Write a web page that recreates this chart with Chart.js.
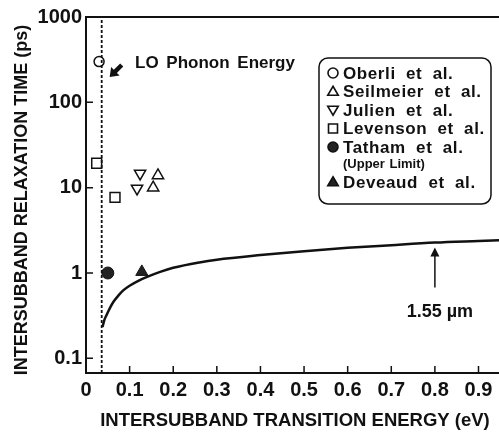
<!DOCTYPE html>
<html lang="en">
<head>
<meta charset="UTF-8">
<title>Intersubband relaxation time</title>
<script src="https://cdn.jsdelivr.net/npm/chart.js"></script>
<style>
    html, body { margin: 0; padding: 0; background: #fff; }
    #grafico { display: block; }
</style>
</head>
<body>
<canvas id="grafico" width="499" height="436"></canvas>
<script>
    // curva teorica (eV, ps)
    const energiaCurva = [0.038, 0.042, 0.047, 0.055, 0.063, 0.075, 0.086, 0.10, 0.12, 0.14, 0.17, 0.20, 0.26, 0.30, 0.40, 0.50, 0.60, 0.70, 0.80, 0.90, 0.95];
    const tempoCurva   = [0.234, 0.28, 0.32, 0.39, 0.46, 0.55, 0.63, 0.71, 0.81, 0.90, 1.03, 1.15, 1.33, 1.43, 1.62, 1.80, 1.97, 2.12, 2.27, 2.37, 2.42];

    // medidas
    const oberliX = [0.030];          const oberliY = [300];
    const seilmeierX = [0.154, 0.165]; const seilmeierY = [10, 13.9];
    const julienX = [0.117, 0.124];    const julienY = [9.8, 14.7];
    const levensonX = [0.0245, 0.0665]; const levensonY = [19.3, 7.7];
    const tathamX = [0.050];           const tathamY = [1.0];
    const deveaudX = [0.128];          const deveaudY = [1.03];

    const energiaLO = 0.036;
    const comprimentoOnda = 0.80; // 1.55 um

    const xTicks = [0, 0.1, 0.2, 0.3, 0.4, 0.5, 0.6, 0.7, 0.8, 0.9];
    const xRotulos = ['0', '0.1', '0.2', '0.3', '0.4', '0.5', '0.6', '0.7', '0.8', '0.9'];
    const yTicks = [0.1, 1, 10, 100, 1000];
    const yRotulos = ['0.1', '1', '10', '100', '1000'];
    const xMin = 0, xMax = 0.947;
    const yMin = 0.0673, yMax = 1000;

    const fonte = '"Liberation Sans", Arial, Helvetica, sans-serif';
    const preto = '#111';

    function pontos(xs, ys){
        var lista = [];
        for(var i = 0; i < xs.length; i++){
            lista.push({x: xs[i], y: ys[i]});
        }
        return lista;
    }

    const legendaItens = [
        {texto: 'Oberli et al.', estilo: 'circulo', cheio: false},
        {texto: 'Seilmeier et al.', estilo: 'cima', cheio: false},
        {texto: 'Julien et al.', estilo: 'baixo', cheio: false},
        {texto: 'Levenson et al.', estilo: 'quadrado', cheio: false},
        {texto: 'Tatham et al.', estilo: 'circulo', cheio: true, sub: '(Upper Limit)'},
        {texto: 'Deveaud et al.', estilo: 'cima', cheio: true}
    ];

    function simbolo(ctx, estilo, cheio, x, y, r){
        ctx.beginPath();
        if(estilo == 'circulo'){
            ctx.arc(x, y, r, 0, Math.PI * 2);
        }
        else if(estilo == 'quadrado'){
            ctx.rect(x - r, y - r, 2 * r, 2 * r);
        }
        else{
            var s = estilo == 'cima' ? 1 : -1;
            ctx.moveTo(x, y - s * r * 1.05);
            ctx.lineTo(x + r * 1.05, y + s * r * 0.75);
            ctx.lineTo(x - r * 1.05, y + s * r * 0.75);
            ctx.closePath();
        }
        if(cheio){
            ctx.fillStyle = '#222';
            ctx.fill();
        }
        ctx.lineWidth = 1.6;
        ctx.strokeStyle = preto;
        ctx.stroke();
    }

    const desenho = {
        id: 'desenho',
        afterDraw(chart){
            const ctx = chart.ctx;
            const area = chart.chartArea;
            const sx = chart.scales.x, sy = chart.scales.y;
            ctx.save();
            ctx.strokeStyle = preto;
            ctx.fillStyle = preto;

            // borda superior
            ctx.lineWidth = 2;
            ctx.beginPath();
            ctx.moveTo(area.left, area.top);
            ctx.lineTo(area.right, area.top);
            ctx.stroke();

            // marcas internas
            ctx.lineWidth = 1.5;
            ctx.beginPath();
            for(var i = 1; i < xTicks.length; i++){
                var px = sx.getPixelForValue(xTicks[i]);
                ctx.moveTo(px, area.bottom);
                ctx.lineTo(px, area.bottom - 7);
            }
            for(var j = 0; j < yTicks.length - 1; j++){
                var py = sy.getPixelForValue(yTicks[j]);
                ctx.moveTo(area.left, py);
                ctx.lineTo(area.left + 7, py);
            }
            ctx.stroke();

            // titulos dos eixos
            ctx.textAlign = 'center';
            ctx.textBaseline = 'middle';
            ctx.font = 'bold 18.5px ' + fonte;
            ctx.fillText('INTERSUBBAND TRANSITION ENERGY (eV)', 295, 421);
            ctx.save();
            ctx.translate(22, 200);
            ctx.rotate(-Math.PI / 2);
            ctx.font = 'bold 18px ' + fonte;
            ctx.fillText('INTERSUBBAND RELAXATION TIME (ps)', 0, 0);
            ctx.restore();

            // LO phonon
            ctx.textAlign = 'left';
            ctx.font = 'bold 17px ' + fonte;
            ctx.wordSpacing = '3px';
            ctx.fillText('LO Phonon Energy', 135, 63);
            ctx.wordSpacing = '0px';
            var lx = sx.getPixelForValue(energiaLO);
            ctx.save();
            ctx.translate(lx + 8, 77);
            ctx.rotate(-Math.PI / 4);
            ctx.beginPath();
            ctx.moveTo(0, 0);
            ctx.lineTo(8, -6);
            ctx.lineTo(8, -2.2);
            ctx.lineTo(17, -2.2);
            ctx.lineTo(17, 2.2);
            ctx.lineTo(8, 2.2);
            ctx.lineTo(8, 6);
            ctx.closePath();
            ctx.fill();
            ctx.restore();

            // 1.55 um
            var ax = sx.getPixelForValue(comprimentoOnda);
            var ay = sy.getPixelForValue(2.27);
            ctx.lineWidth = 1.5;
            ctx.beginPath();
            ctx.moveTo(ax, ay + 8);
            ctx.lineTo(ax, ay + 45);
            ctx.stroke();
            ctx.beginPath();
            ctx.moveTo(ax, ay + 5);
            ctx.lineTo(ax + 4.5, ay + 14);
            ctx.lineTo(ax - 4.5, ay + 14);
            ctx.closePath();
            ctx.fill();
            ctx.textAlign = 'center';
            ctx.font = 'bold 18px ' + fonte;
            ctx.fillText('1.55 \u00b5m', ax + 5, 312);

            // legenda
            ctx.lineWidth = 1.5;
            ctx.beginPath();
            ctx.roundRect(319, 58, 172, 146, 9);
            ctx.stroke();
            var linhas = [73, 91.5, 110, 128.5, 147, 182];
            ctx.textAlign = 'left';
            for(var k = 0; k < legendaItens.length; k++){
                var it = legendaItens[k];
                simbolo(ctx, it.estilo, it.cheio, 333, linhas[k], it.estilo == 'quadrado' ? 4.5 : 5);
                ctx.fillStyle = preto;
                ctx.font = 'bold 17px ' + fonte;
                ctx.letterSpacing = '0.6px';
                ctx.wordSpacing = '5px';
                ctx.fillText(it.texto, 343, linhas[k] + 1);
                if(it.sub){
                    ctx.font = 'bold 13px ' + fonte;
                    ctx.letterSpacing = '0px';
                    ctx.wordSpacing = '1px';
                    ctx.fillText(it.sub, 343, 164);
                }
                ctx.letterSpacing = '0px';
                ctx.wordSpacing = '0px';
            }
            ctx.restore();
        }
    };

    const marcador = {backgroundColor: '#fff', borderColor: preto, borderWidth: 1.5};

    new Chart(document.getElementById('grafico'), {
        type: 'scatter',
        data: {
            datasets: [
                {
                    label: 'Teoria',
                    data: pontos(energiaCurva, tempoCurva),
                    showLine: true,
                    borderColor: preto,
                    borderWidth: 2.5,
                    pointRadius: 0,
                    cubicInterpolationMode: 'monotone'
                },
                {
                    label: 'LO Phonon Energy',
                    data: pontos([energiaLO, energiaLO], [yMin, yMax]),
                    showLine: true,
                    borderColor: preto,
                    borderWidth: 1.8,
                    borderDash: [3, 2],
                    pointRadius: 0
                },
                Object.assign({label: 'Oberli et al.', data: pontos(oberliX, oberliY), pointStyle: 'circle', pointRadius: 5}, marcador),
                Object.assign({label: 'Seilmeier et al.', data: pontos(seilmeierX, seilmeierY), pointStyle: 'triangle', pointRadius: 6.5}, marcador),
                Object.assign({label: 'Julien et al.', data: pontos(julienX, julienY), pointStyle: 'triangle', rotation: 180, pointRadius: 6.5}, marcador),
                Object.assign({label: 'Levenson et al.', data: pontos(levensonX, levensonY), pointStyle: 'rect', pointRadius: 7}, marcador),
                {label: 'Tatham et al.', data: pontos(tathamX, tathamY), pointStyle: 'circle', pointRadius: 6, backgroundColor: '#222', borderColor: preto, borderWidth: 1},
                {label: 'Deveaud et al.', data: pontos(deveaudX, deveaudY), pointStyle: 'triangle', pointRadius: 7, backgroundColor: '#222', borderColor: preto, borderWidth: 1}
            ]
        },
        options: {
            responsive: false,
            animation: false,
            devicePixelRatio: 1,
            layout: {autoPadding: false, padding: {top: 17, left: 0, right: 0, bottom: 0}},
            plugins: {
                legend: {display: false},
                tooltip: {enabled: false}
            },
            scales: {
                x: {
                    type: 'linear',
                    min: xMin,
                    max: xMax,
                    afterBuildTicks: function(s){ s.ticks = xTicks.map(function(v){ return {value: v}; }); },
                    afterFit: function(s){
                        s.height = 63;
                        s.paddingLeft = 0;
                        s.paddingRight = 0;
                    },
                    grid: {display: false, drawTicks: false},
                    border: {display: true, color: preto, width: 2},
                    ticks: {
                        callback: function(v, i){ return xRotulos[i]; },
                        font: {family: fonte, size: 20, weight: 'bold'},
                        color: preto,
                        padding: 5,
                        maxRotation: 0,
                        autoSkip: false
                    }
                },
                y: {
                    type: 'logarithmic',
                    min: yMin,
                    max: yMax,
                    afterBuildTicks: function(s){ s.ticks = yTicks.map(function(v){ return {value: v}; }); },
                    afterFit: function(s){
                        s.width = 86;
                        s.paddingTop = 0;
                        s.paddingBottom = 0;
                    },
                    grid: {display: false, drawTicks: false},
                    border: {display: true, color: preto, width: 2},
                    ticks: {
                        callback: function(v, i){ return yRotulos[i]; },
                        font: {family: fonte, size: 20, weight: 'bold'},
                        color: preto,
                        padding: 4,
                        autoSkip: false
                    }
                }
            }
        },
        plugins: [desenho]
    });
</script>
</body>
</html>
